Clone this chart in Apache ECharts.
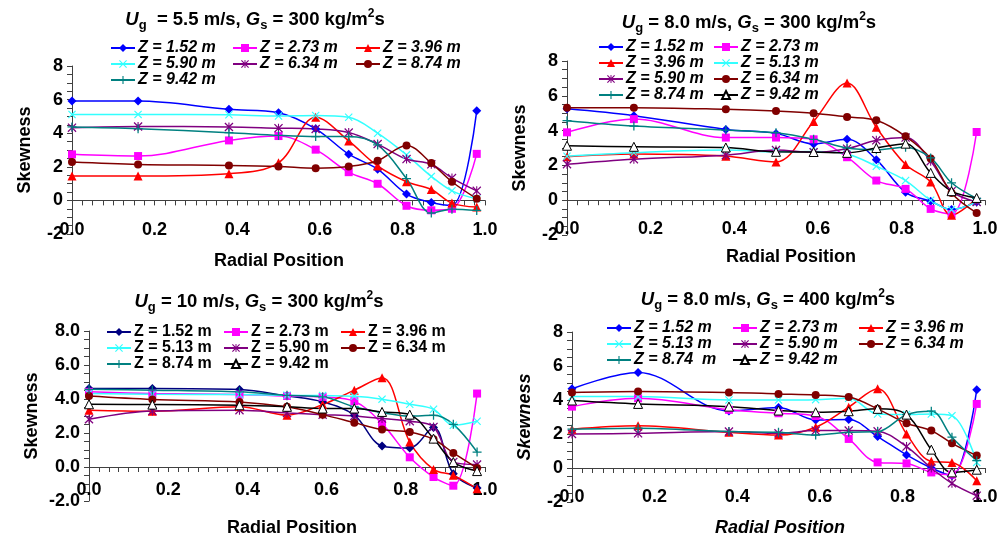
<!DOCTYPE html>
<html>
<head>
<meta charset="utf-8">
<script src="https://cdn.jsdelivr.net/npm/echarts@6/dist/echarts.min.js"></script>
<style>
  html, body { margin: 0; padding: 0; background: #fff; }
  #main { width: 1008px; height: 538px; }
</style>
</head>
<body>
<div id="main"></div>
<script>
// radial positions (r/R) where skewness was measured
var radial = [0, 0.16, 0.38, 0.5, 0.59, 0.67, 0.74, 0.81, 0.87, 0.92, 0.98];

// panel 1 : Ug = 5.5 m/s, Gs = 300
var a152 = [5.91, 5.91, 5.42, 5.22, 4.26, 2.75, 1.86, 0.38, -0.12, -0.30, 5.33];
var a273 = [2.74, 2.64, 3.57, 3.83, 3.02, 1.68, 0.99, -0.32, -0.59, -0.50, 2.77];
var a396 = [1.45, 1.45, 1.59, 2.24, 4.95, 3.54, 2.05, 1.11, 0.65, -0.16, -0.40];
var a590 = [5.12, 5.12, 5.10, 5.02, 5.05, 4.95, 4.00, 2.71, 1.43, 0.57, 0.10];
var a634 = [4.33, 4.40, 4.37, 4.30, 4.25, 4.04, 3.35, 2.46, 2.15, 1.33, 0.57];
var a874 = [2.28, 2.14, 2.08, 2.02, 1.92, 2.02, 2.36, 3.27, 2.22, 1.11, 0.10];
var a942 = [4.37, 4.27, 4.03, 3.87, 3.80, 3.80, 3.30, 1.30, -0.75, -0.52, -0.60];

// panel 2 : Ug = 8.0 m/s, Gs = 300
var b152 = [5.25, 4.86, 4.07, 3.84, 3.23, 3.50, 2.33, 0.45, -0.06, -0.54, -0.10];
var b273 = [3.90, 4.66, 3.60, 3.60, 3.50, 2.47, 1.13, 0.65, -0.50, -0.80, 3.92];
var b396 = [2.50, 2.65, 2.53, 2.20, 4.53, 6.73, 4.19, 2.05, 1.05, -0.86, 0.10];
var b513 = [2.53, 2.73, 2.88, 2.78, 2.80, 2.66, 1.95, 1.13, 0.00, -0.54, -0.10];
var b590 = [2.07, 2.36, 2.59, 2.88, 2.75, 2.96, 3.44, 3.60, 2.24, 0.52, -0.10];
var b634 = [5.32, 5.32, 5.22, 5.12, 5.00, 4.78, 4.59, 3.67, 2.39, 0.42, -0.73];
var b874 = [4.57, 4.26, 4.03, 3.88, 3.50, 3.00, 2.90, 3.05, 2.43, 1.00, 0.10];
var b942 = [3.13, 3.07, 3.03, 2.78, 2.77, 2.72, 3.00, 3.25, 1.57, 0.52, 0.13];

// panel 3 : Ug = 10 m/s, Gs = 300
var c152 = [4.62, 4.62, 4.56, 4.18, 3.83, 3.05, 1.24, 1.12, 2.32, -0.40, -1.24];
var c273 = [4.42, 4.32, 4.26, 4.18, 4.12, 3.87, 2.55, 0.57, -0.59, -1.10, 4.32];
var c396 = [3.34, 3.28, 3.54, 3.05, 3.67, 4.52, 5.25, 1.47, -0.14, -0.49, -1.28];
var c513 = [4.32, 4.28, 4.26, 4.22, 4.20, 4.16, 3.99, 3.69, 3.40, 2.46, 2.69];
var c590 = [2.81, 3.30, 3.34, 3.18, 3.08, 3.00, 2.85, 2.69, 2.36, 0.30, 0.14];
var c634 = [4.17, 3.97, 3.83, 3.54, 3.08, 2.61, 2.20, 2.06, 1.63, 0.83, -0.06];
var c874 = [4.57, 4.52, 4.42, 4.22, 4.13, 3.54, 3.20, 3.00, 3.04, 2.51, 0.88];
var c942 = [3.69, 3.67, 3.63, 3.54, 3.44, 3.44, 3.24, 3.08, 1.67, 0.29, -0.24];

// panel 4 : Ug = 8.0 m/s, Gs = 400
var d152 = [4.66, 5.62, 3.36, 3.56, 2.83, 2.85, 1.85, 0.77, 0.00, -0.45, 4.60];
var d273 = [3.61, 4.10, 3.42, 3.22, 3.06, 1.71, 0.33, 0.27, -0.26, -0.39, 3.77];
var d396 = [2.28, 2.48, 2.10, 1.94, 2.40, 3.58, 4.66, 2.00, 0.39, 0.33, -0.75];
var d513 = [4.20, 4.20, 4.00, 4.00, 4.02, 4.10, 3.18, 3.14, 3.18, 3.08, 0.33];
var d590 = [2.00, 2.04, 2.14, 2.04, 2.20, 2.20, 2.16, 1.26, 0.00, -0.90, -1.63];
var d634 = [4.44, 4.50, 4.44, 4.36, 4.30, 4.17, 3.48, 2.63, 2.20, 1.45, 0.73];
var d874 = [2.28, 2.34, 2.14, 2.10, 1.94, 2.10, 2.14, 3.14, 3.34, 1.81, 0.43];
var d942 = [3.97, 3.77, 3.61, 3.38, 3.28, 3.34, 3.48, 3.14, 1.08, -0.26, -0.10];

var xMin = 0, xMax = 1, xStep = 0.2;
var yMin = -2, yMax = 8, yStep = 2;

var FONT = '"Liberation Sans", Arial, sans-serif';
var AXIS_COLOR = '#404040';

// marker shapes (Excel style)
var X_PATH = 'path://M1,0L5,4L9,0L10,1L6,5L10,9L9,10L5,6L1,10L0,9L4,5L0,1Z';
var PLUS_PATH = 'path://M4.3,0H5.7V4.3H10V5.7H5.7V10H4.3V5.7H0V4.3H4.3Z';
var STAR_PATH = 'path://M1,0L5,4L9,0L10,1L6,5L10,9L9,10L5,6L1,10L0,9L4,5L0,1ZM4.4,0H5.6V10H4.4Z';

var marks = {
  diamond: { symbol: 'diamond', size: 9 },
  square:  { symbol: 'rect', size: 8 },
  tri:     { symbol: 'triangle', size: 9 },
  cross:   { symbol: X_PATH, size: 8 },
  star:    { symbol: STAR_PATH, size: 9 },
  circle:  { symbol: 'circle', size: 8 },
  plus:    { symbol: PLUS_PATH, size: 9 },
  opentri: { symbol: 'triangle', size: 9, open: true }
};

var panels = [
  {
    grid: { left: 72, top: 66, width: 413, height: 168 },
    title: '{i|U}{s|g}  = 5.5 m/s, {i|G}{s|s} = 300 kg/m{p|2}s', tx: 255, ty: 8,
    xname: [279, 252], italic: true, axItalic: false, yFix: 0, lblMargin: -13, nameGap: 38,
    cols: [110, 232, 355], ltop: 40, rowH: 16,
    series: [
      ['Z = 1.52 m', a152, 'diamond', '#0000ff'],
      ['Z = 2.73 m', a273, 'square', '#ff00ff'],
      ['Z = 3.96 m', a396, 'tri', '#ff0000'],
      ['Z = 5.90 m', a590, 'cross', '#33ffff'],
      ['Z = 6.34 m', a634, 'star', '#800080'],
      ['Z = 8.74 m', a874, 'circle', '#800000'],
      ['Z = 9.42 m', a942, 'plus', '#008080']
    ]
  },
  {
    grid: { left: 567, top: 61, width: 418, height: 174 },
    title: '{i|U}{s|g} = 8.0 m/s, {i|G}{s|s} = 300 kg/m{p|2}s', tx: 749, ty: 11,
    xname: [791, 248], italic: true, axItalic: false, yFix: 0, lblMargin: -15, nameGap: 38,
    cols: [598, 713], ltop: 39, rowH: 16,
    series: [
      ['Z = 1.52 m', b152, 'diamond', '#0000ff'],
      ['Z = 2.73 m', b273, 'square', '#ff00ff'],
      ['Z = 3.96 m', b396, 'tri', '#ff0000'],
      ['Z = 5.13 m', b513, 'cross', '#33ffff'],
      ['Z = 5.90 m', b590, 'star', '#800080'],
      ['Z = 6.34 m', b634, 'circle', '#800000'],
      ['Z = 8.74 m', b874, 'plus', '#008080'],
      ['Z = 9.42 m', b942, 'opentri', '#000000']
    ]
  },
  {
    grid: { left: 89, top: 331, width: 396, height: 170 },
    title: '{i|U}{s|g} = 10 m/s, {i|G}{s|s} = 300 kg/m{p|2}s', tx: 259, ty: 290,
    xname: [292, 519], italic: false, axItalic: false, yFix: 1, lblMargin: -20, nameGap: 48,
    cols: [106, 223, 340], ltop: 324, rowH: 15.5,
    series: [
      ['Z = 1.52 m', c152, 'diamond', '#000080'],
      ['Z = 2.73 m', c273, 'square', '#ff00ff'],
      ['Z = 3.96 m', c396, 'tri', '#ff0000'],
      ['Z = 5.13 m', c513, 'cross', '#33ffff'],
      ['Z = 5.90 m', c590, 'star', '#800080'],
      ['Z = 6.34 m', c634, 'circle', '#800000'],
      ['Z = 8.74 m', c874, 'plus', '#008080'],
      ['Z = 9.42 m', c942, 'opentri', '#000000']
    ]
  },
  {
    grid: { left: 572, top: 332, width: 413, height: 170 },
    title: '{i|U}{s|g} = 8.0 m/s, {i|G}{s|s} = 400 kg/m{p|2}s', tx: 768, ty: 288,
    xname: [780, 519], italic: true, axItalic: true, yFix: 0, lblMargin: -14, nameGap: 38,
    cols: [606, 732, 858], ltop: 320, rowH: 16,
    series: [
      ['Z = 1.52 m', d152, 'diamond', '#0000ff'],
      ['Z = 2.73 m', d273, 'square', '#ff00ff'],
      ['Z = 3.96 m', d396, 'tri', '#ff0000'],
      ['Z = 5.13 m', d513, 'cross', '#33ffff'],
      ['Z = 5.90 m', d590, 'star', '#800080'],
      ['Z = 6.34 m', d634, 'circle', '#800000'],
      ['Z = 8.74  m', d874, 'plus', '#008080'],
      ['Z = 9.42 m', d942, 'opentri', '#000000']
    ]
  }
];

var option = {
  backgroundColor: '#fff',
  animation: false,
  textStyle: { fontFamily: FONT },
  grid: [], xAxis: [], yAxis: [], series: [], legend: [], title: []
};

var richTitle = {
  i: { fontStyle: 'italic', fontWeight: 'bold', fontSize: 18.5, fontFamily: FONT, color: '#000', lineHeight: 24 },
  s: { fontWeight: 'bold', fontSize: 13, fontFamily: FONT, color: '#000', lineHeight: 13, verticalAlign: 'bottom' },
  p: { fontWeight: 'bold', fontSize: 12, fontFamily: FONT, color: '#000', lineHeight: 12, verticalAlign: 'top' }
};

panels.forEach(function (p, k) {
  option.grid.push(p.grid);

  // axis line sitting on y = 0 with ticks
  option.xAxis.push({
    type: 'value', gridIndex: k, position: 'bottom', min: xMin, max: xMax, interval: xStep,
    axisLine: { onZero: true, lineStyle: { color: AXIS_COLOR, width: 1 } },
    axisTick: { show: true, length: 5, lineStyle: { color: AXIS_COLOR } },
    minorTick: { show: true, splitNumber: 8, length: 5, lineStyle: { color: AXIS_COLOR } },
    axisLabel: { show: false },
    splitLine: { show: false }
  });
  // tick labels at the bottom
  option.xAxis.push({
    type: 'value', gridIndex: k, position: 'bottom', min: xMin, max: xMax, interval: xStep,
    axisLine: { show: false, onZero: false },
    axisTick: { show: false },
    splitLine: { show: false },
    axisLabel: {
      margin: p.lblMargin, fontSize: 18, fontWeight: 'bold', color: '#000', fontFamily: FONT,
      formatter: function (v) { return v.toFixed(1); }
    }
  });
  option.yAxis.push({
    type: 'value', gridIndex: k, position: 'left', min: yMin, max: yMax, interval: yStep,
    name: 'Skewness', nameLocation: 'middle', nameRotate: 90, nameGap: p.nameGap,
    nameTextStyle: { fontSize: 18, fontWeight: 'bold', color: '#000', fontFamily: FONT,
      fontStyle: p.axItalic ? 'italic' : 'normal' },
    axisLine: { show: true, onZero: false, lineStyle: { color: AXIS_COLOR, width: 1 } },
    axisTick: { show: true, length: 5, lineStyle: { color: AXIS_COLOR } },
    minorTick: { show: true, splitNumber: 4, length: 5, lineStyle: { color: AXIS_COLOR } },
    splitLine: { show: false },
    axisLabel: {
      margin: 9, fontSize: 18, fontWeight: 'bold', color: '#000', fontFamily: FONT,
      formatter: function (v) { return v.toFixed(p.yFix); }
    }
  });

  option.title.push({
    text: p.title, left: p.tx, top: p.ty, textAlign: 'center', padding: 0,
    textStyle: { fontSize: 18.5, fontWeight: 'bold', color: '#000', fontFamily: FONT, lineHeight: 24, rich: richTitle }
  });
  option.title.push({
    text: 'Radial Position', left: p.xname[0], top: p.xname[1], textAlign: 'center', padding: 0,
    textStyle: { fontSize: 18, fontWeight: 'bold', color: '#000', fontFamily: FONT,
      fontStyle: p.axItalic ? 'italic' : 'normal' }
  });

  var names = [];
  p.series.forEach(function (s) {
    var m = marks[s[2]];
    var nm = s[0] + '#' + k;
    names.push(nm);
    option.series.push({
      type: 'line', name: nm, xAxisIndex: 2 * k, yAxisIndex: k,
      data: radial.map(function (x, i) { return [x, s[1][i]]; }),
      smooth: 0.35,
      symbol: m.symbol, symbolSize: m.size, showSymbol: true,
      lineStyle: { color: s[3], width: 1.5 },
      itemStyle: m.open
        ? { color: '#ffffff', borderColor: s[3], borderWidth: 1 }
        : { color: s[3], borderColor: s[3], borderWidth: 0 },
      emphasis: { disabled: true }
    });
  });

  // one vertical legend per column, items read row by row
  var nCols = p.cols.length;
  p.cols.forEach(function (cx, c) {
    var colNames = names.filter(function (n, i) { return i % nCols === c; });
    option.legend.push({
      data: colNames, orient: 'vertical', left: cx, top: p.ltop,
      padding: 0, itemGap: 0, itemWidth: 24, itemHeight: 10,
      selectedMode: false,
      formatter: function (n) { return n.split('#')[0]; },
      textStyle: {
        fontSize: 16, fontWeight: 'bold', fontStyle: p.italic ? 'italic' : 'normal',
        color: '#000', fontFamily: FONT, lineHeight: p.rowH, padding: [0, 0, 0, -2]
      }
    });
  });
});

var chart = echarts.init(document.getElementById('main'), null, { renderer: 'canvas' });
chart.setOption(option);
</script>
</body>
</html>
